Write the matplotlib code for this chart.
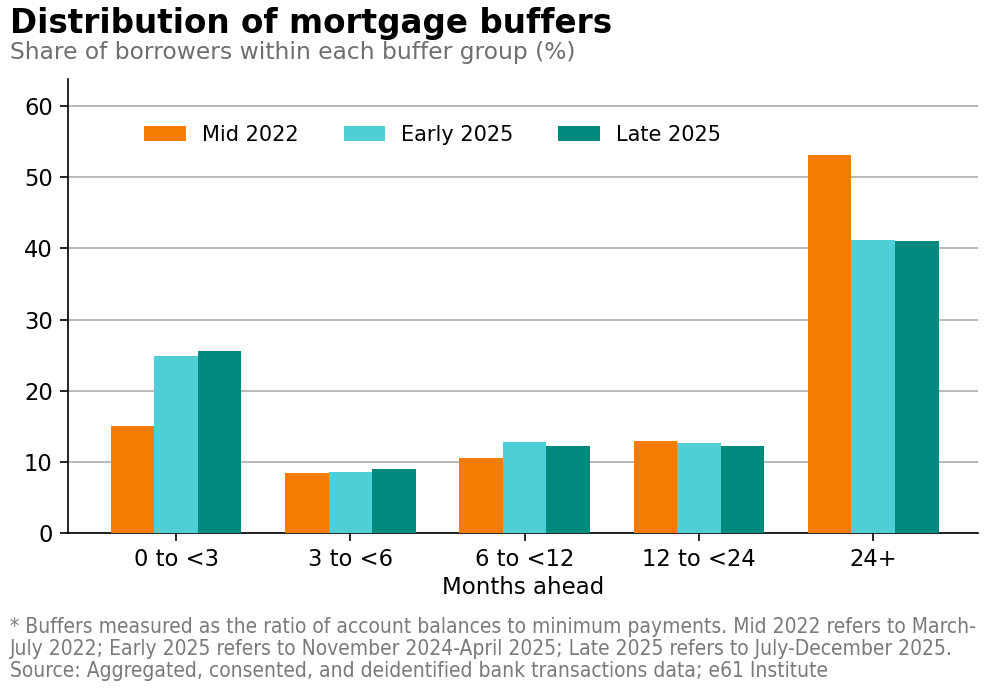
import matplotlib
matplotlib.use("Agg")
import matplotlib.pyplot as plt
import numpy as np

# data
categories = ["0 to <3", "3 to <6", "6 to <12", "12 to <24", "24+"]
series_names = ["Mid 2022", "Early 2025", "Late 2025"]
mid_2022 = [15.1, 8.4, 10.5, 12.9, 53.1]
early_2025 = [24.9, 8.6, 12.8, 12.6, 41.2]
late_2025 = [25.6, 9.0, 12.2, 12.2, 41.1]
yticks = [0, 10, 20, 30, 40, 50, 60]

colors = ["#F57C00", "#4ECFD6", "#00897E"]

plt.rcParams['font.family'] = ['DejaVu Sans']

fig = plt.figure(figsize=(10.06, 6.96), dpi=100)
ax = fig.add_axes([0.0676, 0.234, 0.9044, 0.6525])

x = np.arange(len(categories))
width = 0.25
for i, (vals, name) in enumerate(zip([mid_2022, early_2025, late_2025], series_names)):
    ax.bar(x + (i - 1) * width, vals, width, color=colors[i], label=name, zorder=3)

ax.set_xlim(-0.62, 4.6)
ax.set_ylim(0, 63.8)
ax.set_yticks(yticks)
ax.set_xticks(x)
ax.set_xticklabels(categories)
ax.tick_params(axis='both', labelsize=16.3, length=6, width=1.2, pad=5)
ax.yaxis.grid(True, color="#b3b3b3", linewidth=1.3, zorder=0)
ax.set_axisbelow(True)
for s in ["top", "right"]:
    ax.spines[s].set_visible(False)
for s in ["left", "bottom"]:
    ax.spines[s].set_linewidth(1.2)
ax.set_xlabel("Months ahead", fontsize=16.5, labelpad=3)

ax.legend(loc="center", bbox_to_anchor=(0.401, 0.877), ncol=3, frameon=False,
          fontsize=15, handlelength=2.0, handleheight=0.7, handletextpad=0.77,
          columnspacing=2.15, borderpad=0)

fig.text(0.01, 0.966, "Distribution of mortgage buffers", fontsize=23.5, fontweight="bold",
         va="center", ha="left")
fig.text(0.01, 0.925, "Share of borrowers within each buffer group (%)", fontsize=16.8,
         color="#6f6f6f", va="center", ha="left")

note = ("* Buffers measured as the ratio of account balances to minimum payments. Mid 2022 refers to March-\n"
        "July 2022; Early 2025 refers to November 2024-April 2025; Late 2025 refers to July-December 2025.\n"
        "Source: Aggregated, consented, and deidentified bank transactions data; e61 Institute")
fig.text(0.01, 0.0675, note, fontsize=15.0, color="#7a7a7a", va="center", ha="left",
         linespacing=1.1, fontstretch="condensed")

fig.savefig("out.png", dpi=100)
